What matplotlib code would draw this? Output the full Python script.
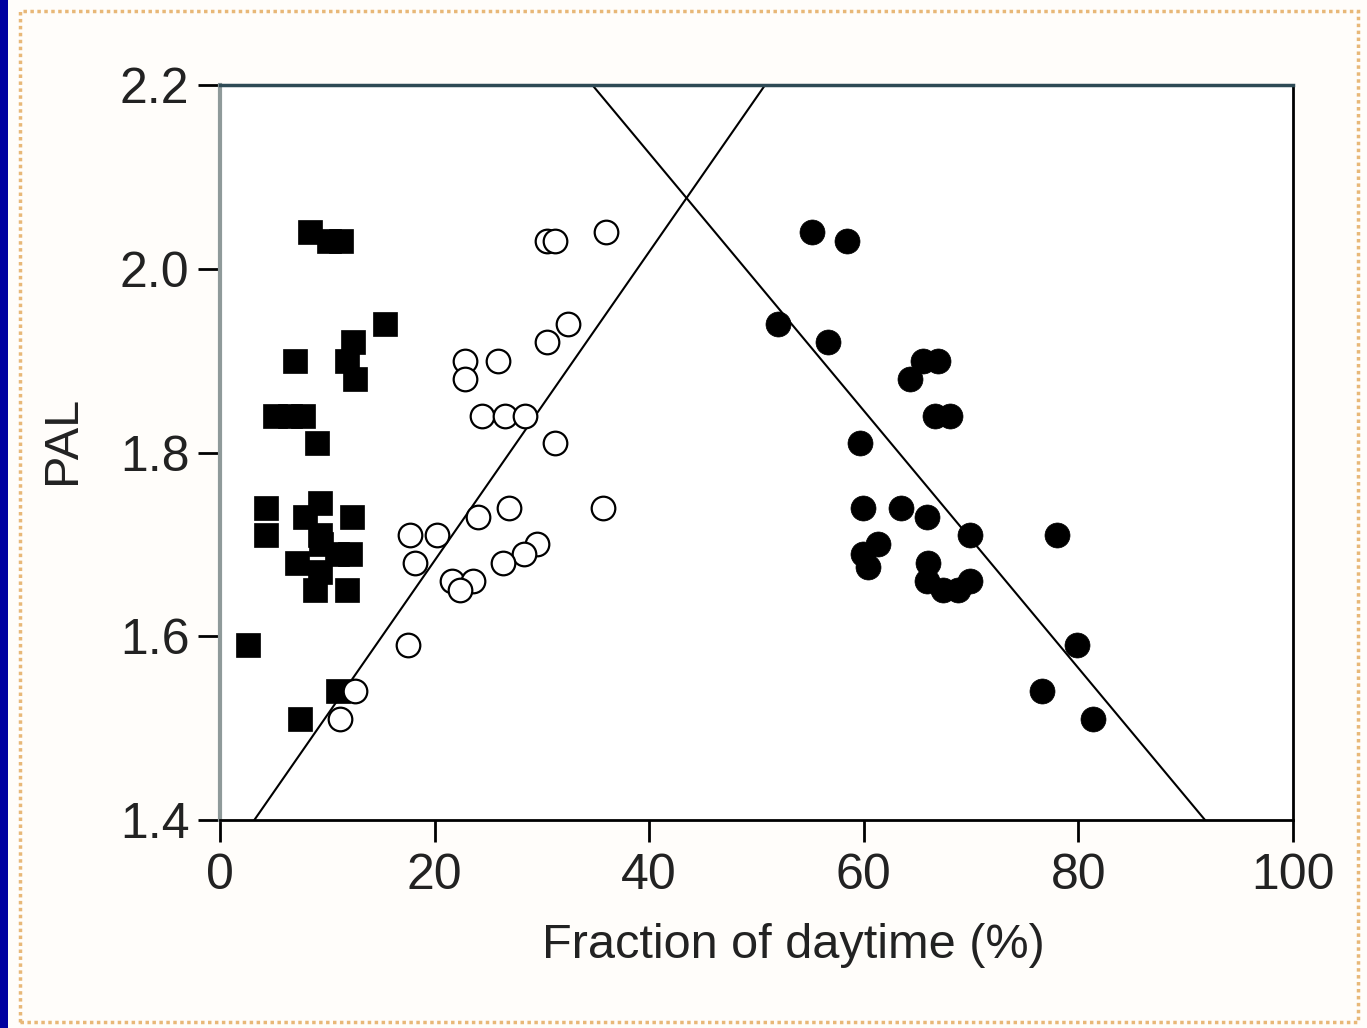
import matplotlib
matplotlib.use("Agg")
import matplotlib.pyplot as plt
from matplotlib.patches import Rectangle

# Data
squares_x = [8.4, 10.2, 11.3, 15.4, 12.4, 11.8, 12.6, 7.0, 5.1, 6.5, 7.7, 9.0,
             4.3, 4.3, 9.3, 7.9, 12.3, 9.3, 9.4, 7.2, 10.9, 12.1, 9.3, 8.9, 11.8,
             2.6, 11.0, 7.5]
squares_y = [2.04, 2.03, 2.03, 1.94, 1.92, 1.90, 1.88, 1.90, 1.84, 1.84, 1.84, 1.81,
             1.74, 1.71, 1.745, 1.73, 1.73, 1.71, 1.70, 1.68, 1.69, 1.69, 1.67, 1.65, 1.65,
             1.59, 1.54, 1.51]

open_x = [30.5, 31.2, 36.0, 32.4, 30.5, 22.8, 22.8, 25.9, 24.4, 26.6, 28.4, 31.2,
          26.9, 24.0, 35.7, 17.7, 20.2, 18.2, 29.5, 28.3, 26.4, 21.6, 23.6, 22.4,
          17.5, 12.6, 11.2]
open_y = [2.03, 2.03, 2.04, 1.94, 1.92, 1.90, 1.88, 1.90, 1.84, 1.84, 1.84, 1.81,
          1.74, 1.73, 1.74, 1.71, 1.71, 1.68, 1.70, 1.69, 1.68, 1.66, 1.66, 1.65,
          1.59, 1.54, 1.51]

filled_x = [55.2, 58.4, 52.0, 56.7, 65.5, 66.9, 64.3, 66.6, 68.0, 59.6, 59.9, 63.5,
            65.9, 69.9, 61.3, 59.9, 60.4, 66.0, 65.9, 67.4, 68.8, 69.9, 78.0, 79.9,
            76.6, 81.4]
filled_y = [2.04, 2.03, 1.94, 1.92, 1.90, 1.90, 1.88, 1.84, 1.84, 1.81, 1.74, 1.74,
            1.73, 1.71, 1.70, 1.69, 1.675, 1.68, 1.66, 1.65, 1.65, 1.66, 1.71, 1.59,
            1.54, 1.51]

# regression lines (end points)
rise_x = [3.2, 50.8]
rise_y = [1.4, 2.2]
fall_x = [34.7, 91.8]
fall_y = [2.2, 1.4]

xticks = [0, 20, 40, 60, 80, 100]
yticks = [1.4, 1.6, 1.8, 2.0, 2.2]

plt.rcParams['font.family'] = ['Liberation Sans', 'DejaVu Sans']

W, H = 1367, 1028
fig = plt.figure(figsize=(W / 100, H / 100), dpi=100)
fig.patch.set_facecolor("#FFFDFA")

# frame decoration: blue strip on the left, dotted border
fig.add_artist(Rectangle((0, 0), 8 / W, 1, transform=fig.transFigure,
                         facecolor="#0000A0", edgecolor="none"))
fig.add_artist(Rectangle((20 / W, 6 / H), 1338 / W, 1011 / H, transform=fig.transFigure,
                         facecolor="none", edgecolor="#E8B878", lw=2.5, ls=(0, (1, 1))))

ax = fig.add_axes([220 / W, 208 / H, 1073 / W, 735 / H])
ax.set_facecolor("white")

ax.plot(rise_x, rise_y, color="black", lw=1.5, zorder=2)
ax.plot(fall_x, fall_y, color="black", lw=1.5, zorder=2)

ax.plot(squares_x, squares_y, ls="none", marker="s", ms=17.5, mfc="black",
        mec="black", mew=0.5, zorder=3)
ax.plot(open_x, open_y, ls="none", marker="o", ms=17, mfc="white",
        mec="black", mew=1.6, zorder=4)
ax.plot(filled_x, filled_y, ls="none", marker="o", ms=18, mfc="black",
        mec="black", mew=0.5, zorder=3)

ax.set_xlim(0, 100)
ax.set_ylim(1.4, 2.2)
ax.set_xticks(xticks)
ax.set_yticks(yticks)
ax.set_yticklabels([f"{v:.1f}" for v in yticks])
ax.tick_params(axis="both", direction="out", length=16, width=2, labelsize=36,
               color="black", labelcolor="#222222")
ax.tick_params(axis="x", pad=8)
ax.tick_params(axis="y", pad=6)

for side in ["right", "bottom"]:
    ax.spines[side].set_linewidth(2)
    ax.spines[side].set_color("black")
ax.spines["left"].set_linewidth(3)
ax.spines["left"].set_color("#8F9A9A")
ax.spines["top"].set_linewidth(2.5)
ax.spines["top"].set_color("#2E4A55")

ax.set_xlabel("Fraction of daytime (%)", fontsize=35, color="#222222", labelpad=18)
ax.set_ylabel("PAL", fontsize=35, color="#222222", labelpad=26)
ax.xaxis.set_label_coords(0.534, -0.14)
ax.yaxis.set_label_coords(-0.126, 0.517)

fig.savefig("out.png", dpi=100, facecolor=fig.get_facecolor())
